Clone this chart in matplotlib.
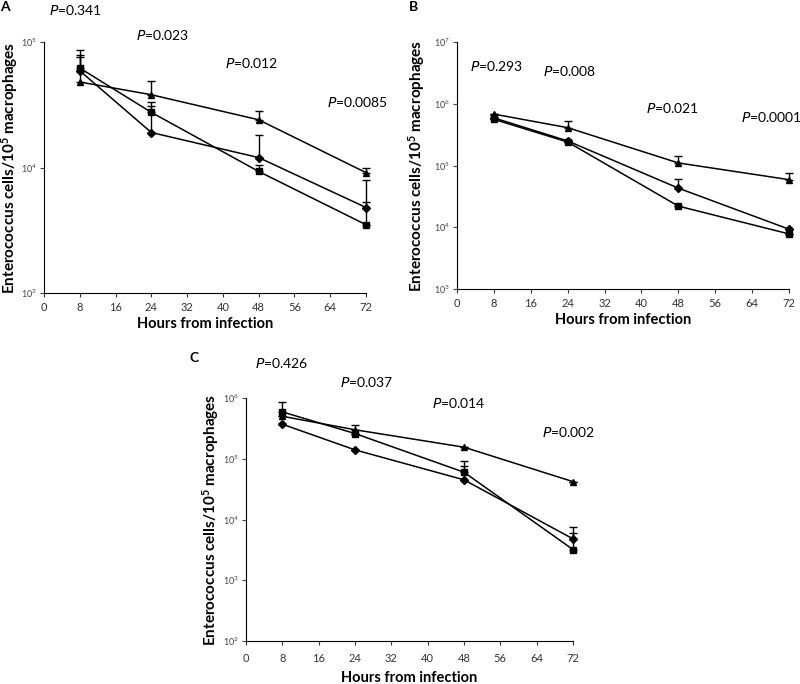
import numpy as np
import matplotlib
matplotlib.use('Agg')
import matplotlib.pyplot as plt
from matplotlib.ticker import LogLocator, NullLocator

plt.rcParams['font.family'] = ['Lato', 'DejaVu Sans']
plt.rcParams['mathtext.default'] = 'regular'

hours = [8, 24, 48, 72]

# panel A
a_tri = [4.8e4, 3.8e4, 2.4e4, 9.1e3]
a_sq = [6.2e4, 2.75e4, 9.3e3, 3.5e3]
a_dia = [5.9e4, 1.9e4, 1.2e4, 4.8e3]
a_tri_top = [7.6e4, 4.9e4, 2.8e4, 1.0e4]
a_sq_top = [7.9e4, 3.3e4, 1.05e4, 5.3e3]
a_dia_top = [8.6e4, 3.1e4, 1.8e4, 7.9e3]
a_p = ['0.341', '0.023', '0.012', '0.0085']

# panel B
b_tri = [6.8e5, 4.1e5, 1.1e5, 5.9e4]
b_sq = [5.6e5, 2.4e5, 2.2e4, 7.8e3]
b_dia = [5.9e5, 2.5e5, 4.3e4, 9.3e3]
b_tri_top = [6.9e5, 5.3e5, 1.4e5, 7.6e4]
b_sq_top = [5.6e5, 2.4e5, 2.2e4, 7.8e3]
b_dia_top = [6.5e5, 2.5e5, 6.0e4, 9.3e3]
b_p = ['0.293', '0.008', '0.021', '0.0001']

# panel C
c_tri = [5.0e5, 3.0e5, 1.55e5, 4.2e4]
c_sq = [5.9e5, 2.6e5, 6.0e4, 3.2e3]
c_dia = [3.7e5, 1.4e5, 4.5e4, 4.8e3]
c_tri_top = [5.0e5, 3.6e5, 1.55e5, 4.2e4]
c_sq_top = [8.5e5, 2.6e5, 9.2e4, 6.0e3]
c_dia_top = [3.7e5, 1.4e5, 7.6e4, 7.4e3]
c_p = ['0.426', '0.037', '0.014', '0.002']

fig = plt.figure(figsize=(8, 6.84), dpi=100)


def px(x, y):
    return x / 800, 1 - y / 684


def panel(rect, tri, sq, dia, tri_top, sq_top, dia_top, ylim, pvals, ppos,
          letter, lpos, ylab_x, xpad, xlabpad):
    ax = fig.add_axes(rect)
    for vals, top, m, ms in [(tri, tri_top, '^', 5), (sq, sq_top, 's', 5), (dia, dia_top, 'D', 4)]:
        vals = np.array(vals)
        up = np.array(top) - vals
        ax.errorbar(hours, vals, yerr=[np.zeros_like(up), up], color='black', marker=m,
                    markersize=ms, linewidth=1.1, elinewidth=1.0, capsize=3, capthick=1.0,
                    clip_on=False)
    ax.set_yscale('log')
    ax.set_ylim(ylim)
    ax.set_xlim(0, 72)
    ax.set_xticks(range(0, 73, 8))
    ax.yaxis.set_major_locator(LogLocator(base=10, numticks=10))
    ax.yaxis.set_minor_locator(NullLocator())
    ax.spines['top'].set_visible(False)
    ax.spines['right'].set_visible(False)
    ax.tick_params(axis='x', labelsize=8, colors='#333333', length=3, pad=xpad)
    ax.tick_params(axis='y', labelsize=6.5, colors='#444444', length=3, pad=2)
    ax.set_xlabel('Hours from infection', fontsize=10.5, fontweight='bold', labelpad=xlabpad)
    ax.set_ylabel('Enterococcus cells/10$^5$ macrophages', fontsize=11, fontweight='bold')
    ax.yaxis.set_label_coords(ylab_x, 0.5)
    for p, (x, y) in zip(pvals, ppos):
        fig.text(*px(x, y), '$\\it{P}$=' + p, fontsize=10, ha='center', va='center')
    fig.text(*px(*lpos), letter, fontsize=10, fontweight='bold', ha='center', va='center')
    return ax


panel([44 / 800, 1 - 293 / 684, 322 / 800, 251 / 684], a_tri, a_sq, a_dia,
      a_tri_top, a_sq_top, a_dia_top, (1e3, 1e5), a_p,
      [(75, 10), (163, 35), (252, 63), (358, 102)], 'A', (5, 7),
      (20 - 44) / 322, 3.5, 3)

panel([457 / 800, 1 - 289 / 684, 332 / 800, 247 / 684], b_tri, b_sq, b_dia,
      b_tri_top, b_sq_top, b_dia_top, (1e3, 1e7), b_p,
      [(497, 66), (570, 71), (672, 108), (771, 117)], 'B', (413, 7),
      (427 - 457) / 332, 3.5, 3)

panel([246 / 800, 1 - 641 / 684, 327 / 800, 243 / 684], c_tri, c_sq, c_dia,
      c_tri_top, c_sq_top, c_dia_top, (1e2, 1e6), c_p,
      [(282, 363), (367, 382), (459, 403), (569, 432)], 'C', (194, 358),
      (221 - 246) / 327, 6, 5)

plt.savefig('out.png', dpi=100)
